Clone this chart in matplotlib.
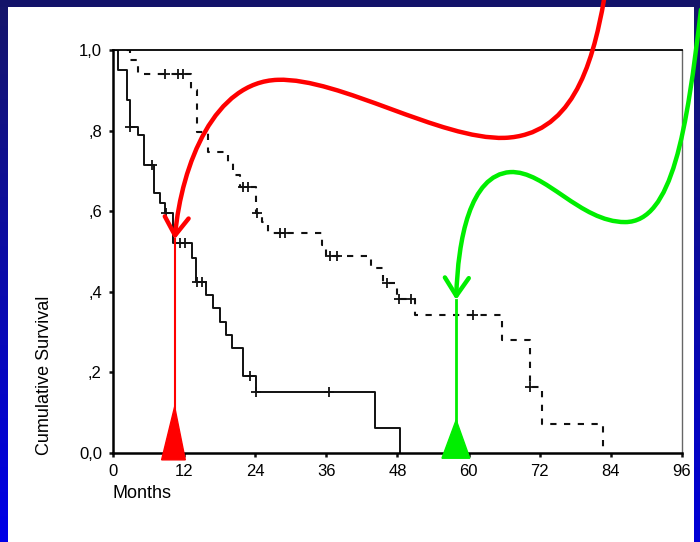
import matplotlib

matplotlib.use("Agg")
import matplotlib.pyplot as plt
import numpy as np
from matplotlib.patches import FancyArrowPatch, Polygon, Rectangle
from matplotlib.path import Path

plt.rcParams["font.family"] = ["Liberation Sans", "DejaVu Sans"]

W, H = 700, 542

# group with the solid line
solid_times = [0, 0.9, 2.3, 2.9, 4.3, 5.3, 7.0, 7.9, 8.8, 10.2, 13.3, 14.0, 15.7, 16.9,
               18.0, 19.1, 20.0, 21.9, 24.1, 44.2, 48.4]
solid_surv = [1.0, 0.95, 0.876, 0.81, 0.79, 0.715, 0.644, 0.62, 0.595, 0.52, 0.483, 0.425,
              0.392, 0.359, 0.326, 0.292, 0.26, 0.19, 0.152, 0.062, 0.0]
solid_cens_t = [2.9, 6.5, 9.0, 11.3, 12.1, 14.2, 15.1, 23.1, 24.1, 36.4]
solid_cens_s = [0.81, 0.715, 0.595, 0.52, 0.52, 0.425, 0.425, 0.19, 0.152, 0.152]

# group with the dashed line
dash_times = [0, 2.9, 4.3, 13.2, 14.1, 16.0, 19.4, 20.2, 21.4, 24.1, 25.1, 26.2, 35.3, 36.0,
              43.5, 45.5, 48.0, 51.0, 65.6, 70.4, 72.3, 82.7]
dash_surv = [1.0, 0.975, 0.94, 0.90, 0.797, 0.747, 0.722, 0.69, 0.66, 0.595, 0.573, 0.545,
             0.516, 0.489, 0.458, 0.422, 0.382, 0.342, 0.28, 0.165, 0.072, 0.0]
dash_cens_t = [8.8, 11.0, 11.8, 22.0, 22.8, 24.3, 28.2, 29.0, 36.6, 37.8, 46.3, 48.3, 50.3,
               60.8, 70.4]
dash_cens_s = [0.94, 0.94, 0.94, 0.66, 0.66, 0.595, 0.545, 0.545, 0.489, 0.489, 0.422, 0.382,
               0.382, 0.342, 0.165]

x_ticks = [0, 12, 24, 36, 48, 60, 72, 84, 96]
y_ticks = [0.0, 0.2, 0.4, 0.6, 0.8, 1.0]
y_tick_labels = ["0,0", ",2", ",4", ",6", ",8", "1,0"]

# medians marked on the slide
median_red = 10.4
median_green = 57.9

fig = plt.figure(figsize=(W / 100, H / 100), dpi=100, facecolor="white")

# blue slide frame
left = fig.add_axes([0, 0, 8 / W, 1])
grad = np.linspace(0, 1, 256).reshape(-1, 1)
left.imshow(grad, aspect="auto", cmap=matplotlib.colors.LinearSegmentedColormap.from_list(
    "b", ["#16166a", "#0000e8"]), extent=[0, 1, 1, 0])
left.axis("off")
right = fig.add_axes([694 / W, 0, 6 / W, 1])
right.imshow(grad, aspect="auto", cmap=matplotlib.colors.LinearSegmentedColormap.from_list(
    "b2", ["#16166a", "#0000d8"]), extent=[0, 1, 1, 0])
right.axis("off")
fig.add_artist(Rectangle((0, 1 - 7 / H), 1, 7 / H, transform=fig.transFigure,
                         color="#13136a", lw=0))

ax = fig.add_axes([113 / W, 1 - 453 / H, 569 / W, 403 / H])
ax.step(solid_times, solid_surv, where="post", color="#111111", lw=1.4)
ax.step(dash_times, dash_surv, where="post", color="#111111", lw=1.5,
        linestyle=(0, (3.0, 3.6)))
ax.plot(solid_cens_t, solid_cens_s, "+", color="#111111", ms=6.5, mew=1.3)
ax.plot(dash_cens_t, dash_cens_s, "+", color="#111111", ms=6.5, mew=1.3)

ax.set_xlim(0, 96)
ax.set_ylim(0, 1)
ax.set_xticks(x_ticks)
ax.set_yticks(y_ticks)
ax.set_yticklabels(y_tick_labels)
ax.tick_params(axis="both", length=3, width=1.8, labelsize=12, pad=5, color="#111111")
for side in ["left", "bottom"]:
    ax.spines[side].set_linewidth(1.8)
ax.spines["top"].set_linewidth(1.3)
ax.spines["right"].set_linewidth(1.0)
ax.spines["right"].set_color("#666666")

fig.text(45 / W, 1 - 375 / H, "Cumulative Survival", rotation=90, ha="center", va="center",
         fontsize=13)
fig.text(113 / W, 1 - 494 / H, "Months", ha="left", va="center", fontsize=13)

# median markers
ax.plot([median_red, median_red], [0, 0.53], color="red", lw=1.5, clip_on=False)
ax.add_patch(Polygon([[median_red - 2.2, -0.017], [median_red + 1.8, -0.017], [median_red, 0.115]],
                     closed=True, color="red", clip_on=False, zorder=5))
ax.plot([median_green, median_green], [0, 0.38], color="#00ee00", lw=2.0, clip_on=False)
ax.add_patch(Polygon([[median_green - 2.4, -0.013], [median_green + 2.3, -0.013],
                      [median_green, 0.082]],
                     closed=True, color="#00ee00", clip_on=False, zorder=5))

C4 = Path.CURVE4
red_pts = [(82.9, 1.13), (80.8, 0.95), (77.1, 0.789), (66.1, 0.782),
           (55.2, 0.777), (38.3, 0.931), (27.8, 0.926),
           (17.2, 0.921), (11.6, 0.72), (median_red, 0.53)]
green_pts = [(99.2, 1.10), (96.8, 0.80), (94.4, 0.573), (86.4, 0.573),
             (78.8, 0.573), (72.9, 0.702), (67.0, 0.697),
             (60.2, 0.690), (58.2, 0.529), (median_green, 0.38)]
codes = [Path.MOVETO] + [C4] * 9
for pts, col in [(red_pts, "red"), (green_pts, "#00ee00")]:
    arrow = FancyArrowPatch(path=Path(pts, codes), arrowstyle="->,head_length=0.65,head_width=0.43",
                            mutation_scale=20, color=col, lw=3.2, transform=ax.transData,
                            zorder=10)
    fig.add_artist(arrow)

fig.savefig("out.png", dpi=100)
